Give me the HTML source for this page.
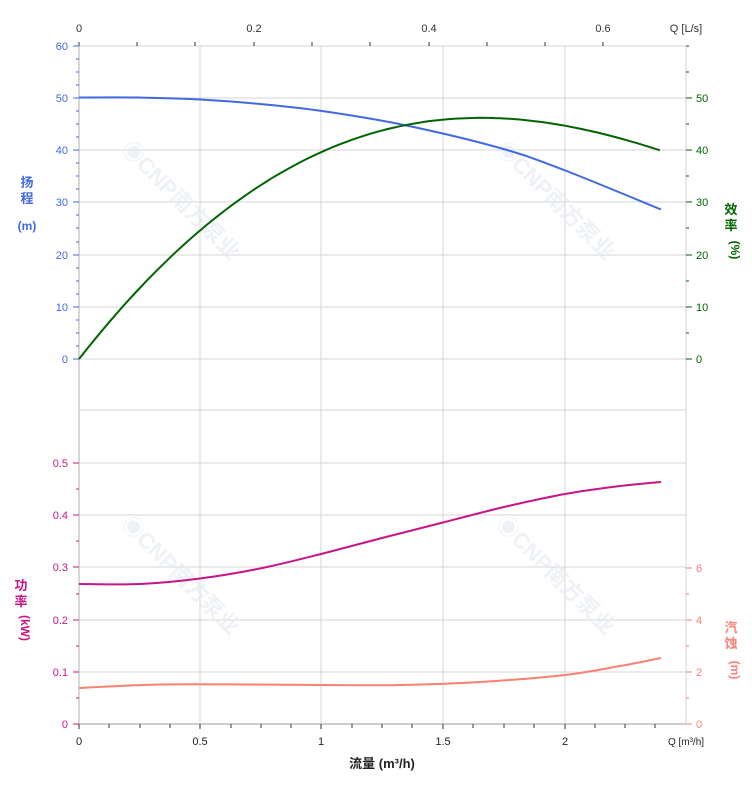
<!DOCTYPE html>
<html><head><meta charset="utf-8"><style>
body{margin:0;background:#fff}
text{font-family:"Liberation Sans","Noto Sans CJK SC",sans-serif;font-size:11px}
</style></head><body>
<svg width="752" height="797" xmlns="http://www.w3.org/2000/svg">
<g stroke="#d6d6d6" stroke-width="1">
<line x1="79" y1="46" x2="686" y2="46"/>
<line x1="79" y1="98" x2="686" y2="98"/><line x1="79" y1="150" x2="686" y2="150"/>
<line x1="79" y1="202" x2="686" y2="202"/><line x1="79" y1="255" x2="686" y2="255"/>
<line x1="79" y1="307" x2="686" y2="307"/><line x1="79" y1="359" x2="686" y2="359"/>
<line x1="79" y1="410" x2="686" y2="410"/>
<line x1="79" y1="463" x2="686" y2="463"/><line x1="79" y1="515" x2="686" y2="515"/>
<line x1="79" y1="567" x2="686" y2="567"/><line x1="79" y1="620" x2="686" y2="620"/>
<line x1="79" y1="672" x2="686" y2="672"/>
<line x1="200" y1="46" x2="200" y2="724"/><line x1="321" y1="46" x2="321" y2="724"/>
<line x1="443" y1="46" x2="443" y2="724"/><line x1="565" y1="46" x2="565" y2="724"/>
<line x1="686" y1="46" x2="686" y2="724"/>
</g>
<line x1="79" y1="724" x2="686" y2="724" stroke="#ccc" stroke-width="2"/>
<line x1="79" y1="46" x2="79" y2="724" stroke="#ccc" stroke-width="1.5"/>
<g fill="#e3e8ee" font-weight="bold" opacity="0.6">
<text x="120" y="150" transform="rotate(45 120 150)" style="font-size:22px">◉CNP南方泵业</text>
<text x="495" y="150" transform="rotate(45 495 150)" style="font-size:22px">◉CNP南方泵业</text>
<text x="120" y="525" transform="rotate(45 120 525)" style="font-size:22px">◉CNP南方泵业</text>
<text x="495" y="525" transform="rotate(45 495 525)" style="font-size:22px">◉CNP南方泵业</text>
</g>
<g stroke="#333"><line x1="79" y1="42" x2="79" y2="46"/><line x1="137" y1="42" x2="137" y2="46"/><line x1="195" y1="42" x2="195" y2="46"/><line x1="254" y1="42" x2="254" y2="46"/><line x1="312" y1="42" x2="312" y2="46"/><line x1="370" y1="42" x2="370" y2="46"/><line x1="429" y1="42" x2="429" y2="46"/><line x1="487" y1="42" x2="487" y2="46"/><line x1="545" y1="42" x2="545" y2="46"/><line x1="603" y1="42" x2="603" y2="46"/></g>
<g fill="#333" text-anchor="middle"><text x="79" y="32">0</text><text x="254" y="32">0.2</text><text x="429" y="32">0.4</text><text x="603" y="32">0.6</text><text x="686" y="32">Q [L/s]</text></g>
<g stroke="#333"><line x1="79" y1="724" x2="79" y2="729"/><line x1="109" y1="724" x2="109" y2="728"/><line x1="140" y1="724" x2="140" y2="728"/><line x1="170" y1="724" x2="170" y2="728"/><line x1="200" y1="724" x2="200" y2="729"/><line x1="231" y1="724" x2="231" y2="728"/><line x1="261" y1="724" x2="261" y2="728"/><line x1="291" y1="724" x2="291" y2="728"/><line x1="321" y1="724" x2="321" y2="729"/><line x1="352" y1="724" x2="352" y2="728"/><line x1="382" y1="724" x2="382" y2="728"/><line x1="412" y1="724" x2="412" y2="728"/><line x1="443" y1="724" x2="443" y2="729"/><line x1="473" y1="724" x2="473" y2="728"/><line x1="504" y1="724" x2="504" y2="728"/><line x1="534" y1="724" x2="534" y2="728"/><line x1="565" y1="724" x2="565" y2="729"/><line x1="595" y1="724" x2="595" y2="728"/><line x1="625" y1="724" x2="625" y2="728"/><line x1="655" y1="724" x2="655" y2="728"/></g>
<g fill="#222" text-anchor="middle"><text x="79" y="745">0</text><text x="200" y="745">0.5</text><text x="321" y="745">1</text><text x="443" y="745">1.5</text><text x="565" y="745">2</text><text x="686" y="745" style="font-size:10px">Q [m³/h]</text></g>
<text x="382" y="768" text-anchor="middle" style="font-size:13px;font-weight:bold" fill="#222">流量 (m³/h)</text>
<g fill="#4169e1" text-anchor="end"><text x="68" y="50">60</text><text x="68" y="102">50</text><text x="68" y="154">40</text><text x="68" y="206">30</text><text x="68" y="259">20</text><text x="68" y="311">10</text><text x="68" y="363">0</text></g>
<g stroke="#4169e1"><path d="M73 46h6M73 98h6M73 150h6M73 202h6M73 255h6M73 307h6M73 359h6M76 59h3M76 72h3M76 85h3M76 111h3M76 124h3M76 137h3M76 163h3M76 176h3M76 189h3M76 215h3M76 228h3M76 242h3M76 268h3M76 281h3M76 294h3M76 320h3M76 333h3M76 346h3"/></g>
<g fill="#4169e1" style="font-weight:bold" text-anchor="middle"><text x="27" y="187" style="font-size:13px">扬</text><text x="27" y="203" style="font-size:13px">程</text><text x="27" y="230" style="font-size:12px">(m)</text></g>
<g fill="#c71585" text-anchor="end"><text x="68" y="467">0.5</text><text x="68" y="519">0.4</text><text x="68" y="571">0.3</text><text x="68" y="624">0.2</text><text x="68" y="676">0.1</text><text x="68" y="728">0</text></g>
<g stroke="#c71585"><path d="M73 463h6M73 515h6M73 567h6M73 620h6M73 672h6M73 724h6M76 489h3M76 541h3M76 594h3M76 646h3M76 698h3"/></g>
<g fill="#c71585" style="font-weight:bold" text-anchor="middle"><text x="21" y="590" style="font-size:13px">功</text><text x="21" y="606" style="font-size:13px">率</text><text x="21" y="628" transform="rotate(90 21 628)" style="font-size:12px">(kW)</text></g>
<g stroke="#006400"><path d="M686 98h6M686 150h6M686 202h6M686 255h6M686 307h6M686 359h6M686 46h3M686 72h3M686 124h3M686 176h3M686 228h3M686 281h3M686 333h3"/></g>
<g fill="#006400"><text x="696" y="102">50</text><text x="696" y="154">40</text><text x="696" y="206">30</text><text x="696" y="259">20</text><text x="696" y="311">10</text><text x="696" y="363">0</text></g>
<g fill="#006400" style="font-weight:bold" text-anchor="middle"><text x="731" y="214" style="font-size:13px">效</text><text x="731" y="230" style="font-size:13px">率</text><text x="731" y="250" transform="rotate(90 731 250)" style="font-size:12px">(%)</text></g>
<g stroke="#fa8072"><path d="M686 568h6M686 620h6M686 672h6M686 724h6M686 594h3M686 646h3M686 698h3"/></g>
<g fill="#fa8072"><text x="696" y="572">6</text><text x="696" y="624">4</text><text x="696" y="676">2</text><text x="696" y="728">0</text></g>
<g fill="#fa8072" style="font-weight:bold" text-anchor="middle"><text x="731" y="632" style="font-size:13px">汽</text><text x="731" y="648" style="font-size:13px">蚀</text><text x="731" y="670" transform="rotate(90 731 670)" style="font-size:12px">(m)</text></g>
<g fill="none" stroke-width="2">
<path id="h" stroke="#4169e1"/>
<path id="e" stroke="#006400"/>
<path id="p" stroke="#c71585"/>
<path id="n" stroke="#fa8072"/>
</g>
</svg>
<script>
function cr(pts){var d="M"+pts[0][0].toFixed(1)+","+pts[0][1].toFixed(1);for(var i=0;i<pts.length-1;i++){var p0=pts[Math.max(0,i-1)],p1=pts[i],p2=pts[i+1],p3=pts[Math.min(pts.length-1,i+2)];var c1=[(p1[0]+(p2[0]-p0[0])/6).toFixed(1),(p1[1]+(p2[1]-p0[1])/6).toFixed(1)],c2=[(p2[0]-(p3[0]-p1[0])/6).toFixed(1),(p2[1]-(p3[1]-p1[1])/6).toFixed(1)];d+=" C"+c1+" "+c2+" "+p2[0].toFixed(1)+","+p2[1].toFixed(1);}return d;}
var ep=[];for(var i=0;i<=48;i++){var q=Math.min(i*0.05,2.39);var f=59.37*q-20.01*q*q-0.072*q*q*q+0.41*q*q*q*q;ep.push([79+q*243,359-f*5.22]);}
document.getElementById("h").setAttribute("d",cr([[79,97.5],[137,97.5],[200,99.5],[260,104],[322,111],[404,125],[500,148],[564,170],[661,209.5]]));
document.getElementById("e").setAttribute("d",cr(ep));
document.getElementById("p").setAttribute("d",cr([[79,584],[140,584],[200,578.5],[260,568.5],[321,554],[382,538],[443,522.5],[504,507],[565,494],[620,486],[661,482]]));
document.getElementById("n").setAttribute("d",cr([[79,688],[160,684.5],[250,684.5],[321,685],[400,685],[480,682],[565,675],[620,666],[661,658]]));
</script>
</body></html>
